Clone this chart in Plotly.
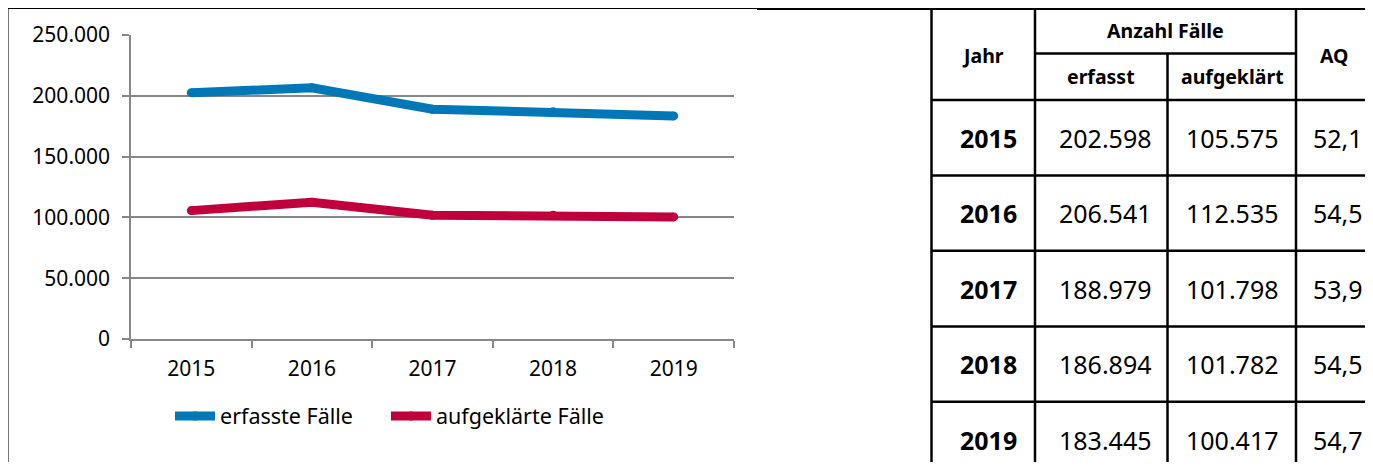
import plotly.graph_objects as go

# page body has an 8px margin; figure is placed at (8, 8) in the window
OFF = 8
W, H = 1373 - 2 * OFF, 470 - 2 * OFF

years = ["2015", "2016", "2017", "2018", "2019"]
erfasst = [202598, 206541, 188979, 186894, 183445]
aufgeklaert = [105575, 112535, 101798, 101782, 100417]
aq = [52.1, 54.5, 53.9, 54.5, 54.7]
series_names = ["erfasste Fälle", "aufgeklärte Fälle"]
header_jahr = "Jahr"
header_anzahl = "Anzahl Fälle"
header_erfasst = "erfasst"
header_aufgekl = "aufgeklärt"
header_aq = "AQ"

BLUE = "#0077B6"
RED = "#C0003C"
GRID = "#878787"
CHART_FONT = "Noto Sans"
TABLE_FONT = "Noto Sans"


def px(x):
    return (x - OFF) / W


def py(y):
    return 1 - (y - OFF) / H


fig = go.Figure()
fig.add_trace(go.Scatter(x=years, y=erfasst, name=series_names[0] + "\u00a0" * 5, mode="lines+markers",
                         line=dict(color=BLUE, width=9), marker=dict(color=BLUE, size=9)))
fig.add_trace(go.Scatter(x=years, y=aufgeklaert, name=series_names[1], mode="lines+markers",
                         line=dict(color=RED, width=9), marker=dict(color=RED, size=9)))

shapes = []


def hline(x0, x1, y, w=2.5, color="black"):
    shapes.append(dict(type="line", xref="paper", yref="paper", x0=px(x0), x1=px(x1),
                       y0=py(y), y1=py(y), line=dict(color=color, width=w)))


def vline(x, y0, y1, w=2.5, color="black"):
    shapes.append(dict(type="line", xref="paper", yref="paper", x0=px(x), x1=px(x),
                       y0=py(y0), y1=py(y1), line=dict(color=color, width=w)))


# chart frame
hline(7, 757, 8.5, w=1.2)
vline(7.8, 8, 470, w=1.5)
# table grid
hline(757, 1373, 8.8)
vline(931.5, 8, 470)
vline(1035, 8, 470)
vline(1167.5, 53, 470)
vline(1296, 8, 470)
hline(1035, 1296, 53.5)
hline(931, 1373, 100)
row_lines = [175.5, 250.8, 326.5, 401.8]
for yl in row_lines:
    hline(931, 1373, yl)

ann = []


def text(x, y, s, size, bold=False):
    ann.append(dict(xref="paper", yref="paper", x=px(x), y=py(y), text=("<b>%s</b>" % s) if bold else s,
                    showarrow=False, xanchor="center", yanchor="middle",
                    font=dict(family=TABLE_FONT, size=size, color="black")))


HS = 19.5
text(983, 55, header_jahr, HS, True)
text(1165, 31, header_anzahl, HS, True)
text(1101, 77, header_erfasst, HS, True)
text(1232, 77, header_aufgekl, HS, True)
text(1334, 55, header_aq, HS, True)

row_centers = [138, 213, 289, 364, 440]
BS = 25


def fmt_int(v):
    return f"{v:,}".replace(",", ".")


for i, yr in enumerate(years):
    yc = row_centers[i]
    text(988, yc, yr, BS, True)
    text(1105, yc, fmt_int(erfasst[i]), BS)
    text(1232, yc, fmt_int(aufgeklaert[i]), BS)
    text(1338, yc, f"{aq[i]:.1f}".replace(".", ","), BS)

fig.update_layout(
    width=W, height=H,
    margin=dict(l=0, r=0, t=0, b=0, pad=0, autoexpand=False),
    paper_bgcolor="white", plot_bgcolor="white",
    separators=",.",
    showlegend=True,
    legend=dict(orientation="h", x=px(170), y=py(416), xanchor="left", yanchor="middle",
                font=dict(family=CHART_FONT, size=21.5, color="black"), itemwidth=40,
                tracegroupgap=0, bgcolor="rgba(0,0,0,0)"),
    shapes=shapes,
    annotations=ann,
    font=dict(family=CHART_FONT, size=21, color="black"),
)

fig.update_xaxes(
    domain=[px(131), px(734)], type="category", range=[-0.5, 4.5],
    showgrid=False, showline=True, linecolor=GRID, linewidth=1.5,
    ticks="outside", tickson="boundaries", ticklen=7, tickcolor=GRID, tickwidth=1.5,
    tickfont=dict(family=CHART_FONT, size=21, color="black"), ticklabelstandoff=10,
    zeroline=False, fixedrange=True, automargin=False,
)
fig.update_yaxes(
    domain=[py(339), py(35)], range=[0, 250000], dtick=50000, tickformat=",d",
    showgrid=True, gridcolor=GRID, gridwidth=1.5,
    showline=True, linecolor=GRID, linewidth=1.5,
    ticks="outside", ticklen=7, tickcolor=GRID, tickwidth=1.5,
    tickfont=dict(family=CHART_FONT, size=21, color="black"), ticklabelstandoff=8,
    zeroline=False, fixedrange=True, automargin=False,
)

fig.write_html("out.html")
